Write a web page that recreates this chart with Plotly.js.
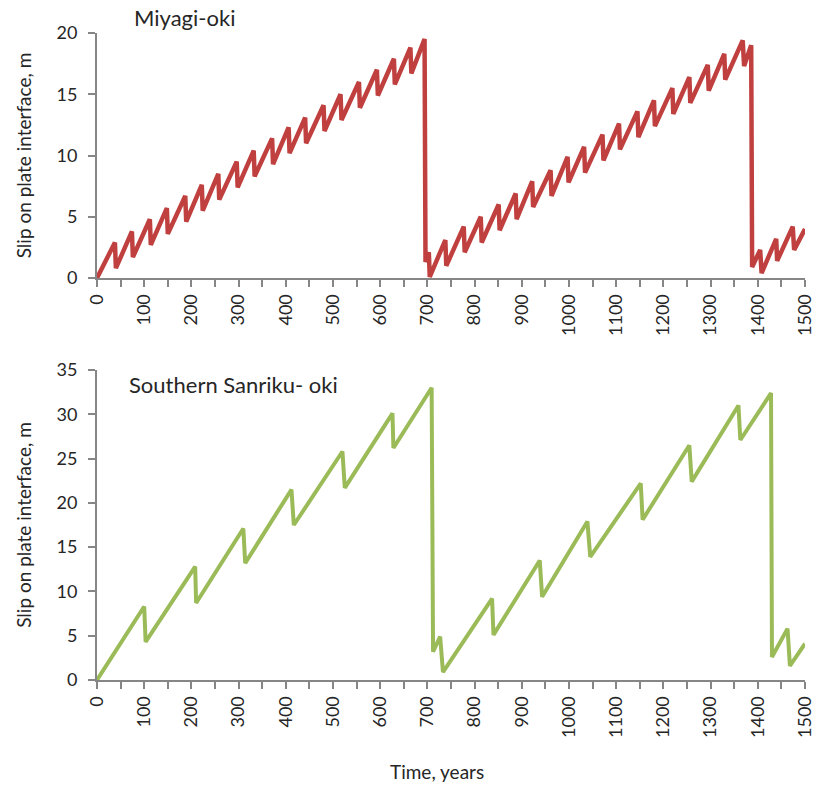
<!DOCTYPE html>
<html>
<head>
<meta charset="utf-8">
<script src="https://cdn.plot.ly/plotly-3.0.1.min.js"></script>
<style>
html,body{margin:0;padding:0;background:#ffffff;}
#chart{width:816px;height:787px;}
</style>
</head>
<body>
<div id="chart"></div>
<script>
// ---- Data ----
const miyagiYears = [0, 38, 40, 74, 76, 112, 114, 148, 150, 187, 189, 222, 224, 257, 259, 296, 298, 332, 334, 371, 373, 406, 408, 441, 443, 480, 482, 516, 518, 555, 557, 593, 595, 629, 631, 664, 666, 694, 696, 703, 705, 738, 740, 777, 779, 813, 815, 851, 853, 887, 889, 922, 924, 961, 963, 997, 999, 1032, 1034, 1071, 1073, 1106, 1108, 1145, 1147, 1180, 1182, 1219, 1221, 1255, 1257, 1294, 1296, 1329, 1331, 1368, 1371, 1386, 1388, 1405, 1408, 1439, 1441, 1474, 1477, 1500];
const miyagiSlip = [0, 2.9, 0.8, 3.8, 1.7, 4.8, 2.7, 5.7, 3.6, 6.7, 4.6, 7.6, 5.5, 8.5, 6.4, 9.5, 7.4, 10.4, 8.3, 11.4, 9.3, 12.3, 10.2, 13.1, 11.0, 14.1, 12.0, 15.0, 12.9, 16.0, 13.9, 17.0, 14.9, 17.9, 15.8, 18.8, 16.7, 19.5, 1.3, 2.1, 0.1, 3.1, 1.0, 4.2, 2.1, 5.0, 2.9, 6.0, 3.9, 6.9, 4.8, 7.9, 5.8, 8.8, 6.7, 9.9, 7.8, 10.7, 8.6, 11.7, 9.6, 12.6, 10.5, 13.6, 11.5, 14.5, 12.4, 15.5, 13.4, 16.4, 14.3, 17.4, 15.3, 18.3, 16.2, 19.4, 17.3, 19.0, 0.9, 2.3, 0.4, 3.2, 1.4, 4.2, 2.3, 4.0];

const sanrikuYears = [0, 100, 103, 208, 210, 310, 314, 412, 417, 520, 525, 626, 628, 709, 712, 727, 733, 837, 840, 938, 943, 1039, 1045, 1152, 1156, 1255, 1260, 1359, 1363, 1428, 1430, 1463, 1468, 1500];
const sanrikuSlip = [0, 8.3, 4.3, 12.8, 8.7, 17.1, 13.2, 21.5, 17.5, 25.8, 21.7, 30.1, 26.2, 33.0, 3.2, 4.9, 0.9, 9.2, 5.1, 13.5, 9.4, 17.9, 13.9, 22.2, 18.1, 26.5, 22.4, 31.0, 27.1, 32.4, 2.6, 5.8, 1.6, 4.1];

const xTickVals = [0, 100, 200, 300, 400, 500, 600, 700, 800, 900, 1000, 1100, 1200, 1300, 1400, 1500];
const xTickText = ['0', '100', '200', '300', '400', '500', '600', '700', '800', '900', '1000', '1100', '1200', '1300', '1400', '1500'];
const miyagiYTicks = [0, 5, 10, 15, 20];
const sanrikuYTicks = [0, 5, 10, 15, 20, 25, 30, 35];
const panelTitles = ['Miyagi-oki', 'Southern Sanriku- oki'];
const yTitleText = 'Slip on plate interface, m';
const xTitleText = 'Time, years';

// ---- Styling ----
const FONT = 'Lato, "Open Sans", sans-serif';
const TXT = '#262626';
const AX = '#868686';

const traces = [
  {x: miyagiYears, y: miyagiSlip, xaxis: 'x', yaxis: 'y', mode: 'lines',
   line: {color: '#C0403F', width: 4.5}, hoverinfo: 'skip', showlegend: false},
  {x: sanrikuYears, y: sanrikuSlip, xaxis: 'x2', yaxis: 'y2', mode: 'lines',
   line: {color: '#9BBB59', width: 4}, hoverinfo: 'skip', showlegend: false}
];

function xAxis(anchor) {
  return {
    anchor: anchor, domain: [0, 1], range: [0, 1500],
    tickmode: 'array', tickvals: xTickVals, ticktext: xTickText, tickangle: -90,
    ticks: 'outside', ticklen: 7, tickwidth: 2, tickcolor: AX,
    minor: {dtick: 50, tick0: 0, ticks: 'outside', ticklen: 7, tickwidth: 2, tickcolor: AX, showgrid: false},
    showline: true, linecolor: AX, linewidth: 2,
    showgrid: false, zeroline: false,
    tickfont: {family: FONT, size: 18, color: TXT}
  };
}
function yAxis(anchor, domain, range, ticks) {
  return {
    anchor: anchor, domain: domain, range: range,
    tickmode: 'array', tickvals: ticks,
    ticks: 'outside', ticklen: 7, tickwidth: 2, tickcolor: AX,
    ticklabelstandoff: 7,
    showline: true, linecolor: AX, linewidth: 2,
    showgrid: false, zeroline: false,
    tickfont: {family: FONT, size: 18, color: TXT},
    title: {text: yTitleText, font: {family: FONT, size: 19, color: TXT}, standoff: 20}
  };
}

const layout = {
  width: 816, height: 787,
  margin: {l: 97, r: 11, t: 33, b: 107},
  paper_bgcolor: '#ffffff', plot_bgcolor: '#ffffff',
  font: {family: FONT, color: TXT},
  showlegend: false,
  xaxis: xAxis('y'),
  yaxis: yAxis('x', [0.6213, 1], [0, 20], miyagiYTicks),
  xaxis2: xAxis('y2'),
  yaxis2: yAxis('x2', [0, 0.4791], [0, 35], sanrikuYTicks),
  annotations: [
    {text: panelTitles[0], xref: 'paper', yref: 'paper', x: 0.05, y: 1.024,
     xanchor: 'left', yanchor: 'middle', showarrow: false,
     font: {family: FONT, size: 22, color: TXT}},
    {text: panelTitles[1], xref: 'paper', yref: 'paper', x: 0.043, y: 0.456,
     xanchor: 'left', yanchor: 'middle', showarrow: false,
     font: {family: FONT, size: 22, color: TXT}},
    {text: xTitleText, xref: 'paper', yref: 'paper', x: 0.480, y: -0.142,
     xanchor: 'center', yanchor: 'middle', showarrow: false,
     font: {family: FONT, size: 19, color: TXT}}
  ]
};

Plotly.newPlot('chart', traces, layout, {displayModeBar: false, staticPlot: true});
</script>
</body>
</html>
